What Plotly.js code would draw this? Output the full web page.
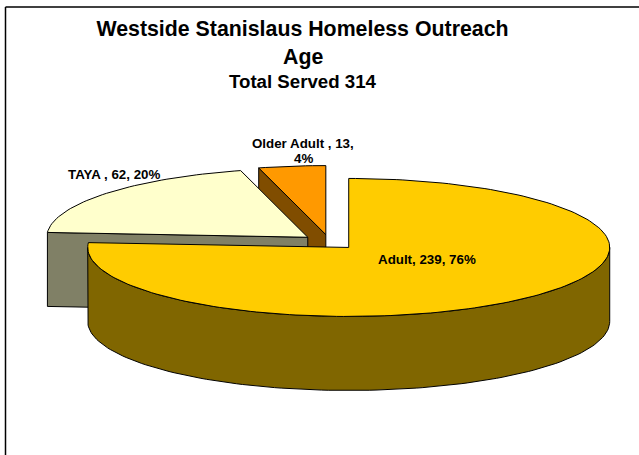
<!DOCTYPE html>
<html>
<head>
<meta charset="utf-8">
<script src="https://cdn.plot.ly/plotly-3.0.1.min.js"></script>
<style>html,body{margin:0;padding:0;background:#fff}#chart{width:639px;height:455px}</style>
</head>
<body>
<div id="chart"></div>
<script>
// Age groups served, in the order the slices run clockwise from twelve o'clock
const categories = ['Adult', 'TAYA ', 'Older Adult '];
const served = [239, 62, 13];
const topColors = ['#FFCC00', '#FFFFCC', '#FF9900'];
const wallColors = ['#806600', '#808066', '#804D00'];

// Pie geometry in page pixels: a tilted disc with a vertical rim
const W = 639, H = 455;
const CX = 329.5, CY = 242, RX = 261, RY = 69, DEPTH = 74, EXPLODE = 0.108;
const FONT = 'Liberation Sans, Arial, sans-serif';

const total = served.reduce((a, b) => a + b, 0);
const rad = d => d * Math.PI / 180;

// Start and end angle of every slice, in degrees clockwise from the top
let running = 0;
const slices = served.map((v, i) => {
  const a0 = running / total * 360;
  running += v;
  const a1 = running / total * 360;
  const mid = rad((a0 + a1) / 2);
  return {
    i, a0, a1,
    ox: CX + EXPLODE * RX * Math.sin(mid),
    oy: CY - EXPLODE * RY * Math.cos(mid)
  };
});

function arc(s, from, to, dy) {
  const n = Math.max(2, Math.ceil(Math.abs(to - from) / 1.5));
  const xs = [], ys = [];
  for (let k = 0; k <= n; k++) {
    const a = rad(from + (to - from) * k / n);
    xs.push(s.ox + RX * Math.sin(a));
    ys.push(s.oy - RY * Math.cos(a) + dy);
  }
  return [xs, ys];
}

function poly(xs, ys, fill) {
  return {
    type: 'scatter', mode: 'lines', x: xs, y: ys,
    fill: 'toself', fillcolor: fill,
    line: {color: '#000', width: 1, shape: 'linear'},
    hoverinfo: 'skip', showlegend: false
  };
}

// The slice's flat top
function topFace(s) {
  const [xs, ys] = arc(s, s.a0, s.a1, 0);
  return poly([s.ox, ...xs, s.ox], [s.oy, ...ys, s.oy], topColors[s.i]);
}

// A straight cut face running from the slice's apex to its rim at angle a
function cutFace(s, a) {
  const rx = s.ox + RX * Math.sin(rad(a));
  const ry = s.oy - RY * Math.cos(rad(a));
  return poly([s.ox, rx, rx, s.ox, s.ox], [s.oy, ry, ry + DEPTH, s.oy + DEPTH, s.oy], wallColors[s.i]);
}

// The curved rim on the near side of the disc
function rimFace(s, from, to) {
  const [tx, ty] = arc(s, from, to, 0);
  const [bx, by] = arc(s, to, from, DEPTH);
  return poly([...tx, ...bx, tx[0]], [...ty, ...by, ty[0]], wallColors[s.i]);
}

const [adult, taya, older] = slices;
const traces = [
  cutFace(older, older.a0),
  topFace(older),
  cutFace(taya, taya.a0),
  topFace(taya),
  rimFace(adult, 90, 270),
  topFace(adult)
];

const pct = slices.map(s => Math.round(served[s.i] / total * 100) + '%');
const label = (x, y, text, size) => ({
  x, y, xref: 'x', yref: 'y', text, showarrow: false, align: 'center',
  xanchor: 'center', yanchor: 'middle',
  font: {family: FONT, size: size || 13.33, color: '#000'}
});

const annotations = [
  label(302.5, 57, '<b>Age</b>', 21.33),
  label(302.5, 81, '<b>Total Served ' + total + '</b>', 18.67),
  label(426.5, 259, '<b>' + categories[0] + ', ' + served[0] + ', ' + pct[0] + '</b>'),
  label(114.5, 174, '<b>' + categories[1] + ', ' + served[1] + ', ' + pct[1] + '</b>'),
  label(303, 143, '<b>' + categories[2] + ', ' + served[2] + ',</b>'),
  label(303, 158, '<b>' + pct[2] + '</b>')
];

const layout = {
  width: W, height: H,
  margin: {l: 0, r: 0, t: 0, b: 0},
  paper_bgcolor: '#fff', plot_bgcolor: '#fff',
  showlegend: false,
  title: {
    text: '<b>Westside Stanislaus Homeless Outreach</b>',
    x: 302.5 / W, xanchor: 'center', xref: 'paper',
    y: 1 - 29 / H, yanchor: 'middle', yref: 'container',
    font: {family: FONT, size: 21.33, color: '#000'}
  },
  xaxis: {range: [0, W], visible: false, fixedrange: true},
  yaxis: {range: [H, 0], visible: false, fixedrange: true},
  annotations,
  shapes: [
    {type: 'line', xref: 'x', yref: 'y', x0: 5.5, y0: 7, x1: W, y1: 7, line: {color: '#000', width: 1.5}},
    {type: 'line', xref: 'x', yref: 'y', x0: 5.5, y0: 7, x1: 5.5, y1: H, line: {color: '#000', width: 1.5}}
  ]
};

Plotly.newPlot('chart', traces, layout, {displayModeBar: false, staticPlot: true});
</script>
</body>
</html>
